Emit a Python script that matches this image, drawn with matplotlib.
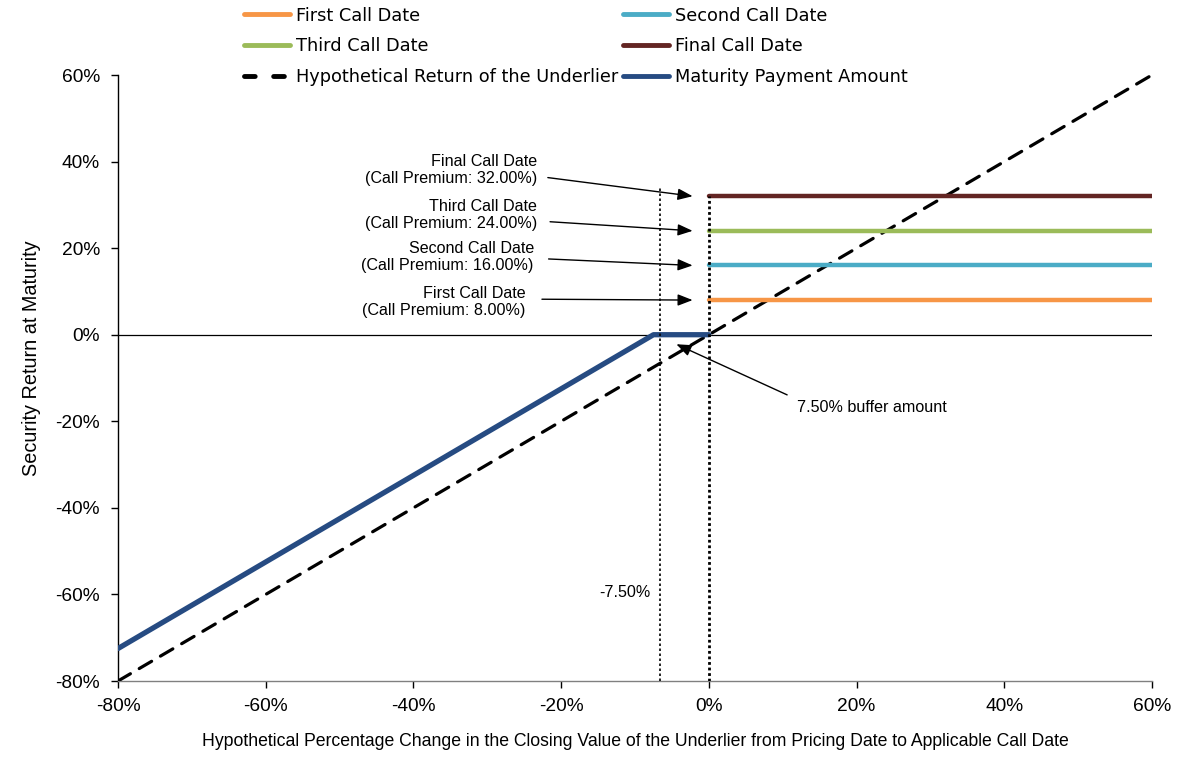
import matplotlib
matplotlib.use("Agg")
import matplotlib.pyplot as plt
from matplotlib.lines import Line2D

# ---- data ----
call_names = ["First Call Date", "Second Call Date", "Third Call Date", "Final Call Date"]
call_premiums = [8.0, 16.0, 24.0, 32.0]
call_colors = ["#F79646", "#4BACC6", "#9BBB59", "#632523"]
call_x = [0, 60]

underlier_x = [-80, 60]
underlier_y = [-80, 60]

payment_x = [-80, -7.5, 0]
payment_y = [-72.5, 0, 0]

buffer_line_x = -6.6

xticks = [-80, -60, -40, -20, 0, 20, 40, 60]
yticks = [-80, -60, -40, -20, 0, 20, 40, 60]

AXFONT = ["Liberation Sans", "DejaVu Sans"]

fig = plt.figure(figsize=(11.82, 7.76), dpi=100)
ax = fig.add_axes([118/1182, 1-681/776, (1152-118)/1182, (681-75)/776])

ax.set_xlim(-80, 60)
ax.set_ylim(-80, 60)

# zero line
ax.axhline(0, color="black", lw=0.9, zorder=1)

# underlier dashed
ax.plot(underlier_x, underlier_y, color="black", lw=2.3, dashes=(4.5, 3.2),
        dash_capstyle="round", zorder=3, label="Hypothetical Return of the Underlier")

# call lines
handles = {}
for name, p, c in zip(call_names, call_premiums, call_colors):
    h, = ax.plot(call_x, [p, p], color=c, lw=3.2, solid_capstyle="round", zorder=4, label=name)
    handles[name] = h

# payment
hp, = ax.plot(payment_x, payment_y, color="#264B82", lw=3.8, solid_capstyle="round",
              solid_joinstyle="round", zorder=5, label="Maturity Payment Amount")

# dotted verticals
ax.plot([0, 0], [-80, call_premiums[-1]], color="black", lw=2.0, linestyle=(0, (1, 1)), zorder=6)
ax.plot([buffer_line_x, buffer_line_x], [-80, 34], color="black", lw=1.2,
        linestyle=(0, (1.5, 1.5)), zorder=6)

# annotations
label_pos = [(-24.8, 7.6), (-23.7, 18.0), (-23.3, 27.7), (-23.3, 38.1)]
tails = [(-22.6, 8.2), (-21.7, 17.5), (-21.5, 26.1), (-21.8, 36.3)]
for name, p, (tx, ty), tail in zip(call_names, call_premiums, label_pos, tails):
    ax.text(tx, ty, f"{name}\n(Call Premium: {p:.2f}%)", ha="right", va="center",
            fontsize=11.6, family=AXFONT, linespacing=1.2, multialignment="right")
    ax.annotate("", xy=(-2.2, p), xytext=tail,
                arrowprops=dict(arrowstyle="-|>,head_length=0.9,head_width=0.35",
                                color="black", lw=1.0, shrinkA=0, shrinkB=0))

ax.annotate("", xy=(-4.4, -2.2), xytext=(10.6, -13.9),
            arrowprops=dict(arrowstyle="-|>,head_length=0.9,head_width=0.35",
                            color="black", lw=1.0, shrinkA=0, shrinkB=0))
ax.text(12.0, -16.9, "7.50% buffer amount", ha="left", va="center", fontsize=11.6, family=AXFONT)
ax.text(-7.9, -59.6, "-7.50%", ha="right", va="center", fontsize=11.6, family=AXFONT)

# axes styling
for s in ["top", "right"]:
    ax.spines[s].set_visible(False)
ax.spines["left"].set_color("black")
ax.spines["bottom"].set_color("#808080")
ax.spines["left"].set_linewidth(1.0)
ax.spines["bottom"].set_linewidth(1.0)
ax.set_xticks(xticks)
ax.set_yticks(yticks)
ax.set_xticklabels([f"{v}%" for v in xticks])
ax.set_yticklabels([f"{v}%" for v in yticks])
ax.tick_params(axis="both", direction="out", length=5, width=1.0, labelsize=13.8)
ax.tick_params(axis="y", pad=8)
ax.tick_params(axis="x", pad=7)
for lab in ax.get_xticklabels() + ax.get_yticklabels():
    lab.set_family(AXFONT)

ax.set_ylabel("Security Return at Maturity", fontsize=14.3, family=AXFONT)
ax.yaxis.set_label_coords(-0.074, 0.533)
ax.set_xlabel("Hypothetical Percentage Change in the Closing Value of the Underlier from Pricing Date to Applicable Call Date",
              fontsize=12.7, family=AXFONT, labelpad=13)

# legend
dash_handle = Line2D([], [], color="black", lw=3.5, dashes=(2.2, 3.8), dash_capstyle="round")
leg_handles = [handles["First Call Date"], handles["Third Call Date"], dash_handle,
               handles["Second Call Date"], handles["Final Call Date"], hp]
leg_labels = ["First Call Date", "Third Call Date", "Hypothetical Return of the Underlier",
              "Second Call Date", "Final Call Date", "Maturity Payment Amount"]
leg = fig.legend(leg_handles, leg_labels, ncol=2, loc="upper left",
                 bbox_to_anchor=(240/1182, 1.0 - 3/776), frameon=False,
                 prop={"family": "DejaVu Sans", "size": 12.8},
                 handlelength=2.6, handletextpad=0.35, columnspacing=0.25,
                 labelspacing=0.72, borderpad=0.2, borderaxespad=0)
for lh in leg.get_lines():
    lh.set_linewidth(3.5)

fig.savefig("out.png", dpi=100)
